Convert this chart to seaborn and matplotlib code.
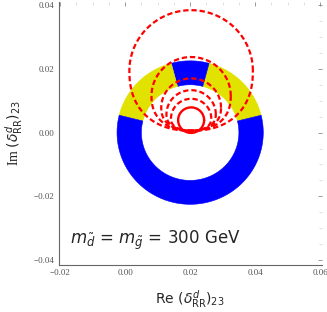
import numpy as np
import pandas as pd
import matplotlib
matplotlib.use("Agg")
import matplotlib.pyplot as plt
import seaborn as sns

# ---- data ----
center_re = 0.02
center_im = 0.0
ring_inner = 0.015
ring_outer = 0.0225
sector_start = [14, 75, 105, 166]      # degrees
sector_end = [75, 105, 166, 374]
sector_color = ["#E2E200", "#0000FF", "#E2E200", "#0000FF"]

# dashed contours: top height, half width, bottom height
curve_re = 0.0203
curve_top = [0.0384, 0.0237, 0.0170, 0.0133, 0.0106]
curve_halfwidth = [0.0190, 0.0122, 0.0092, 0.0076, 0.0062]
curve_bottom = [0.0006, 0.0006, 0.0006, 0.0006, 0.0006]
solid_re = 0.0203
solid_im = 0.0039
solid_radius = 0.0040

x_ticks = [-0.02, 0.00, 0.02, 0.04, 0.06]
y_ticks = [-0.04, -0.02, 0.00, 0.02, 0.04]
x_label = r"Re $(\delta^{d}_{\rm RR})_{23}$"
y_label = r"Im $(\delta^{d}_{\rm RR})_{23}$"
note = r"$m_{\tilde{d}}$ = $m_{\tilde{g}}$ = 300 GeV"

sns.set_style("white")
plt.rcParams["font.family"] = ["DejaVu Sans"]

fig = plt.figure(figsize=(3.27, 3.12), dpi=100)
ax = fig.add_axes([0.179, 0.151, 0.805, 0.843])

# ring sectors
for a0, a1, c in zip(sector_start, sector_end, sector_color):
    t = np.radians(np.linspace(a0, a1, 120))
    xs = np.concatenate([center_re + ring_outer * np.cos(t),
                         center_re + ring_inner * np.cos(t[::-1])])
    ys = np.concatenate([center_im + ring_outer * np.sin(t),
                         center_im + ring_inner * np.sin(t[::-1])])
    ax.fill(xs, ys, color=c, lw=0.4, ec=c, zorder=1)

# dashed contours: round top, slightly flattened bottom
rows = []
n_exp = 2.3
for i, (top, a, bot) in enumerate(zip(curve_top, curve_halfwidth, curve_bottom)):
    cy = top - a
    b_low = cy - bot
    t = np.linspace(0, 2 * np.pi, 400)
    for tt in t:
        s, c = np.sin(tt), np.cos(tt)
        if s >= 0:
            xx, yy = a * c, a * s
        else:
            xx = a * np.sign(c) * abs(c) ** (2 / n_exp)
            yy = -b_low * abs(s) ** (2 / n_exp)
        rows.append({"re": curve_re + xx, "im": cy + yy, "curve": f"c{i}"})
df = pd.DataFrame(rows)
sns.lineplot(data=df, x="re", y="im", units="curve",
             estimator=None, sort=False, color="#FF0000", lw=1.6,
             ax=ax, zorder=3)
for line in ax.lines:
    line.set_dashes((2.4, 1.3))

t = np.linspace(0, 2 * np.pi, 200)
df_s = pd.DataFrame({"re": solid_re + solid_radius * np.cos(t),
                     "im": solid_im + solid_radius * np.sin(t)})
sns.lineplot(data=df_s, x="re", y="im", estimator=None, sort=False,
             color="#FF0000", lw=1.7, ax=ax, zorder=3)

ax.set_xlim(-0.0205, 0.0605)
ax.set_ylim(-0.0415, 0.041)
ax.set_xticks(x_ticks)
ax.set_yticks(y_ticks)
ax.set_xticklabels([f"{v:.2f}".replace("-", "\u2212") for v in x_ticks],
                   family="Liberation Serif", fontsize=6.5, color="#555555")
ax.set_yticklabels([f"{v:.2f}".replace("-", "\u2212") for v in y_ticks],
                   family="Liberation Serif", fontsize=6.5, color="#555555")
ax.set_xticks(np.arange(-0.02, 0.0601, 0.005), minor=True)
ax.set_yticks(np.arange(-0.04, 0.0401, 0.005), minor=True)
ax.tick_params(which="both", direction="in", top=True, right=True)
ax.tick_params(which="major", length=3.0, pad=3, color="#888888", width=0.6)
ax.tick_params(which="minor", length=2.0, color="#c8c8c8", width=0.4)
for s in ["top", "right"]:
    ax.spines[s].set_visible(False)
for s in ["left", "bottom"]:
    ax.spines[s].set_color("#666666")
    ax.spines[s].set_linewidth(0.8)

ax.set_xlabel(x_label, fontsize=10, labelpad=8)
ax.set_ylabel(y_label, fontsize=10, family="Liberation Serif", labelpad=6)
ax.text(0.045, 0.094, note, transform=ax.transAxes, fontsize=12,
        ha="left", va="center")
ax.grid(False)
if ax.get_legend():
    ax.get_legend().remove()

fig.savefig("out.png", dpi=100)
